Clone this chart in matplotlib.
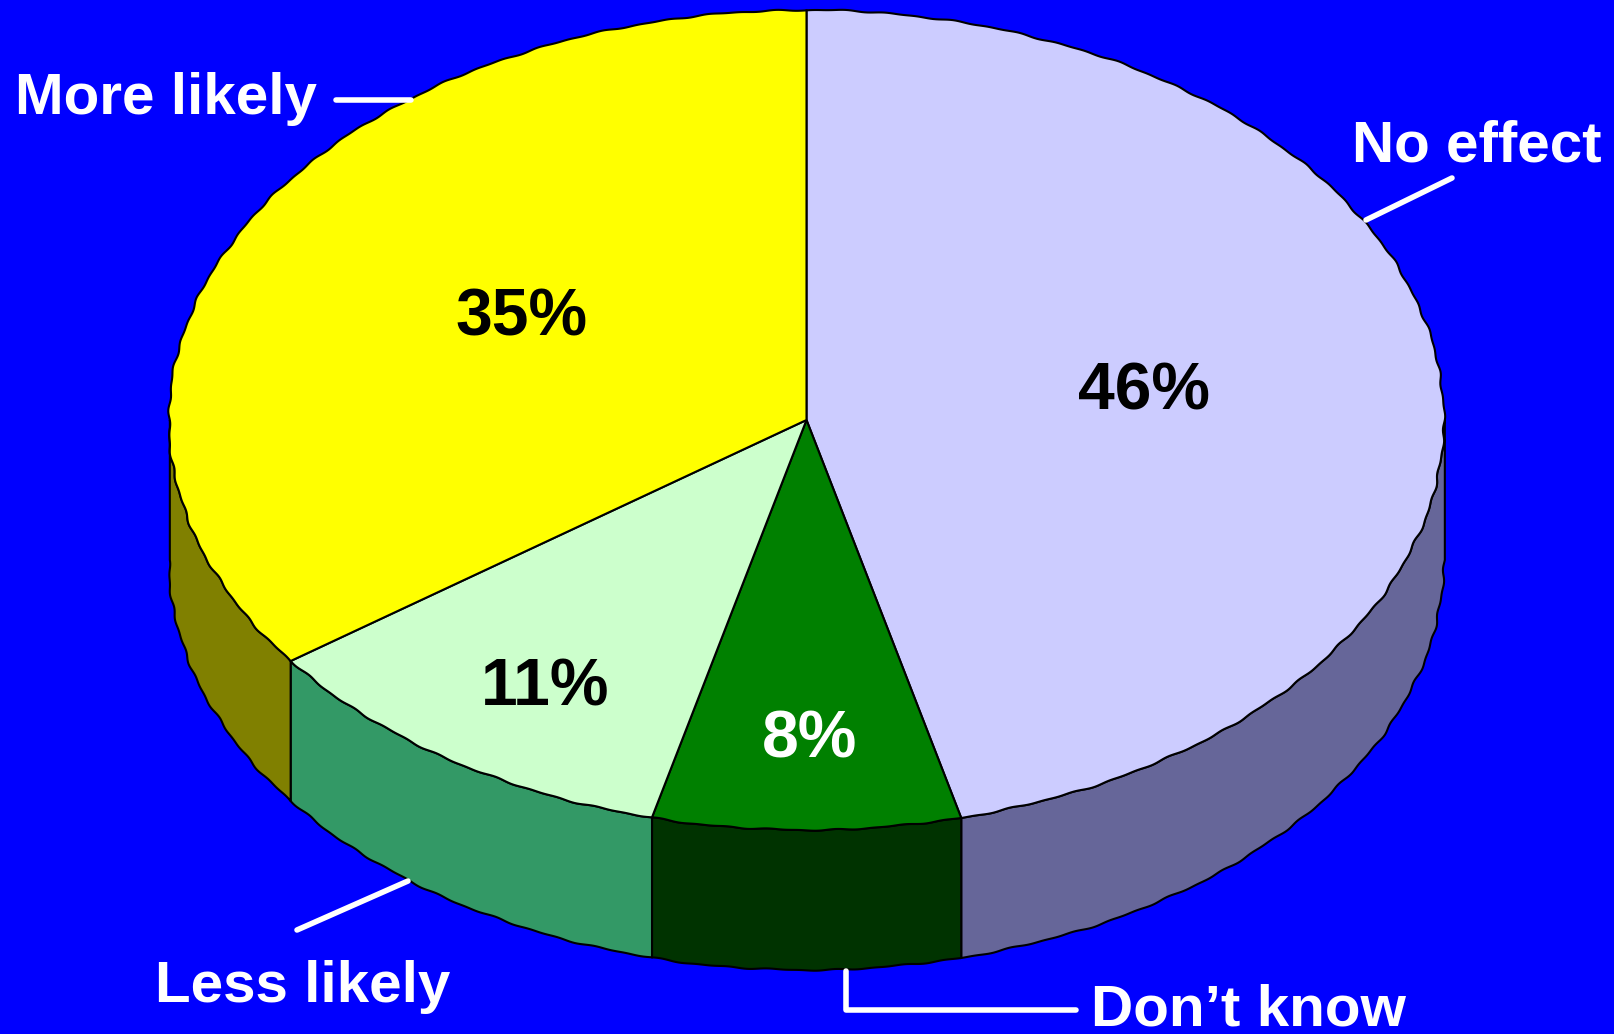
import numpy as np
import matplotlib as mpl
mpl.use('Agg')
import matplotlib.pyplot as plt

plt.rcParams['font.family'] = ['Liberation Sans', 'DejaVu Sans']

# clockwise from 12 o'clock, slice sizes
categories = ['No effect', "Don\u2019t know", 'Less likely', 'More likely']
shares = [46.1, 7.8, 11.1, 35.0]
pct_labels = ['46%', '8%', '11%', '35%']
top_colors = ['#CCCCFF', '#008000', '#CCFFCC', '#FFFF00']
side_colors = ['#666699', '#003300', '#339966', '#808000']
pct_colors = ['black', 'white', 'black', 'black']

W, H = 1615, 1034
cx, cy = 806.5, 420
rx, ry = 637.5, 410
depth = 140

def rim(a0, a1):
    # the original outline is slightly shaky, same shake on top and bottom edge
    n = int(abs(a1 - a0)*4) + 2
    t = np.radians(np.linspace(a0, a1, n))
    shake = 0.0011*np.sin(67*t) + 0.0009*np.sin(113*t + 1) + 0.0006*np.sin(29*t + 2)
    return cx + rx*(1 + shake)*np.cos(t), cy - ry*(1 + shake)*np.sin(t)

fig = plt.figure(figsize=(W/100, H/100), dpi=100, facecolor='#0000FF')
ax = fig.add_axes([0, 0, 1, 1])
ax.set_xlim(0, W)
ax.set_ylim(H, 0)
ax.axis('off')

edges = 90 - np.cumsum([0] + shares)*3.6

# side walls, only the front half of the rim shows
for i in range(len(shares)):
    a0, a1 = edges[i], edges[i+1]
    # visible part is between 180 and 360 deg, written here as -180..0
    lo, hi = max(a1, -180), min(a0, 0)
    if lo >= hi:
        continue
    x, y = rim(hi, lo)
    ax.fill(np.r_[x, x[::-1]], np.r_[y, y[::-1]+depth],
            fc=side_colors[i], ec='black', lw=1.5, zorder=2)

# top faces
for i in range(len(shares)):
    x, y = rim(edges[i], edges[i+1])
    ax.fill(np.r_[cx, x], np.r_[cy, y], fc=top_colors[i], ec='black', lw=1.5, zorder=3)

# percent labels
pct_pos = [(1144, 393), (810, 741), (545, 689), (522, 319)]
for s, c, p in zip(pct_labels, pct_colors, pct_pos):
    ax.text(p[0], p[1], s, color=c, fontsize=47.5, fontweight='bold',
            ha='center', va='center', zorder=5)

# category labels
lab_pos = [(1477, 147), (1248, 1011), (303, 987), (166, 99)]
for s, p in zip(categories, lab_pos):
    ax.text(p[0], p[1], s, color='white', fontsize=42, fontweight='bold',
            ha='center', va='center', zorder=5)

# leader lines
ax.plot([1366, 1452], [220, 178], color='white', lw=4, solid_capstyle='round', zorder=6)
ax.plot([336, 411], [100, 100], color='white', lw=4, solid_capstyle='round', zorder=6)
ax.plot([297, 408], [930, 881], color='white', lw=4, solid_capstyle='round', zorder=6)
ax.plot([846, 846, 1076], [971, 1010, 1010], color='white', lw=4, solid_capstyle='round', zorder=6)

fig.savefig('out.png', dpi=100, facecolor=fig.get_facecolor())
